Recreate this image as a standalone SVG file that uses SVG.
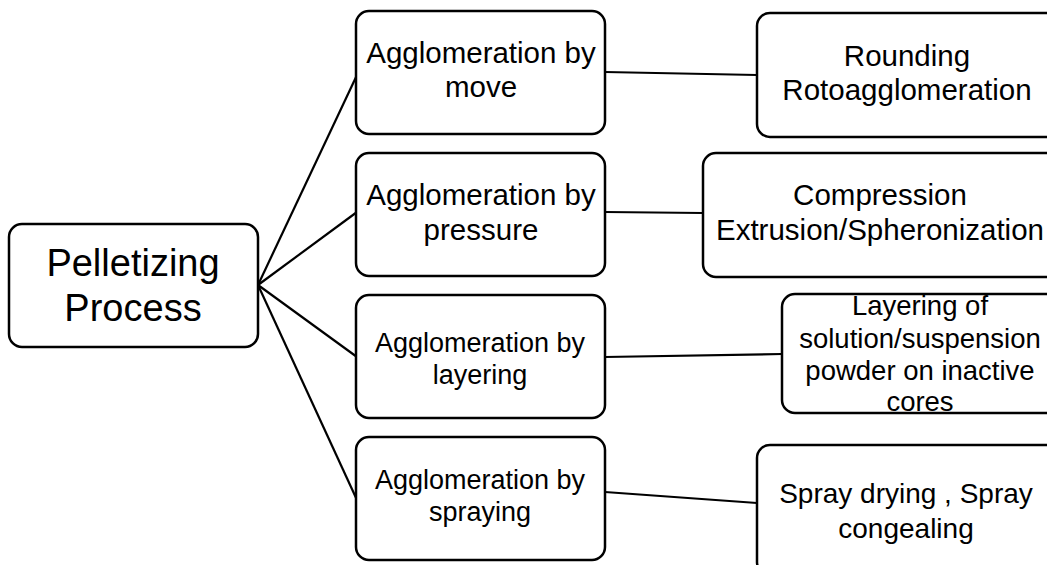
<svg xmlns="http://www.w3.org/2000/svg" width="1047" height="565" viewBox="0 0 1047 565">
<style>
.box{fill:#fff;stroke:#000;stroke-width:2.5}
.t{font-family:"Liberation Sans",Arial,sans-serif;font-size:29.5px;fill:#000;text-anchor:middle}
.s{font-size:27px}
.m{font-size:27.5px}
.sp{font-size:28px}
.big{font-size:38px}
.c{stroke:#000;stroke-width:2.2;fill:none}
</style>
<rect width="1047" height="565" fill="#fff"/>
<g id="connectors">
<line class="c" x1="258" y1="285" x2="357" y2="75"/>
<line class="c" x1="258" y1="285" x2="357" y2="212"/>
<line class="c" x1="258" y1="285" x2="357" y2="357"/>
<line class="c" x1="258" y1="285" x2="357" y2="500"/>
<line class="c" x1="605" y1="72" x2="757" y2="75"/>
<line class="c" x1="605" y1="212" x2="703" y2="213"/>
<line class="c" x1="605" y1="357" x2="782" y2="354"/>
<line class="c" x1="605" y1="492" x2="757" y2="503"/>
</g>
<g id="root">
<rect class="box" x="9" y="224" width="249" height="123" rx="13"/>
<text class="t big" x="133" y="276">Pelletizing</text>
<text class="t big" x="133" y="321">Process</text>
</g>
<g id="move">
<rect class="box" x="356" y="11" width="249" height="123" rx="13"/>
<text class="t" x="481" y="63">Agglomeration by</text>
<text class="t" x="481" y="97">move</text>
</g>
<g id="pressure">
<rect class="box" x="356" y="153" width="249" height="123" rx="13"/>
<text class="t" x="481" y="205">Agglomeration by</text>
<text class="t" x="481" y="240">pressure</text>
</g>
<g id="layering">
<rect class="box" x="356" y="295" width="249" height="123" rx="13"/>
<text class="t s" x="480" y="352">Agglomeration by</text>
<text class="t s" x="480" y="384">layering</text>
</g>
<g id="spraying">
<rect class="box" x="356" y="437" width="249" height="123" rx="13"/>
<text class="t s" x="480" y="489">Agglomeration by</text>
<text class="t s" x="480" y="521">spraying</text>
</g>
<g id="rounding">
<rect class="box" x="757" y="13" width="302" height="124" rx="13"/>
<text class="t" x="907" y="66">Rounding</text>
<text class="t" x="907" y="100">Rotoagglomeration</text>
</g>
<g id="compression">
<rect class="box" x="703" y="153" width="356" height="124" rx="13"/>
<text class="t" x="880" y="205">Compression</text>
<text class="t" x="880" y="240">Extrusion/Spheronization</text>
</g>
<g id="layering-of">
<rect class="box" x="782" y="294" width="277" height="119" rx="13"/>
<text class="t m" x="920" y="315">Layering of</text>
<text class="t m" x="920" y="348">solution/suspension</text>
<text class="t m" x="920" y="380">powder on inactive</text>
<text class="t m" x="920" y="411">cores</text>
</g>
<g id="spray">
<rect class="box" x="757" y="445" width="302" height="130" rx="13"/>
<text class="t sp" x="906" y="503">Spray drying , Spray</text>
<text class="t sp" x="906" y="538">congealing</text>
</g>
</svg>
